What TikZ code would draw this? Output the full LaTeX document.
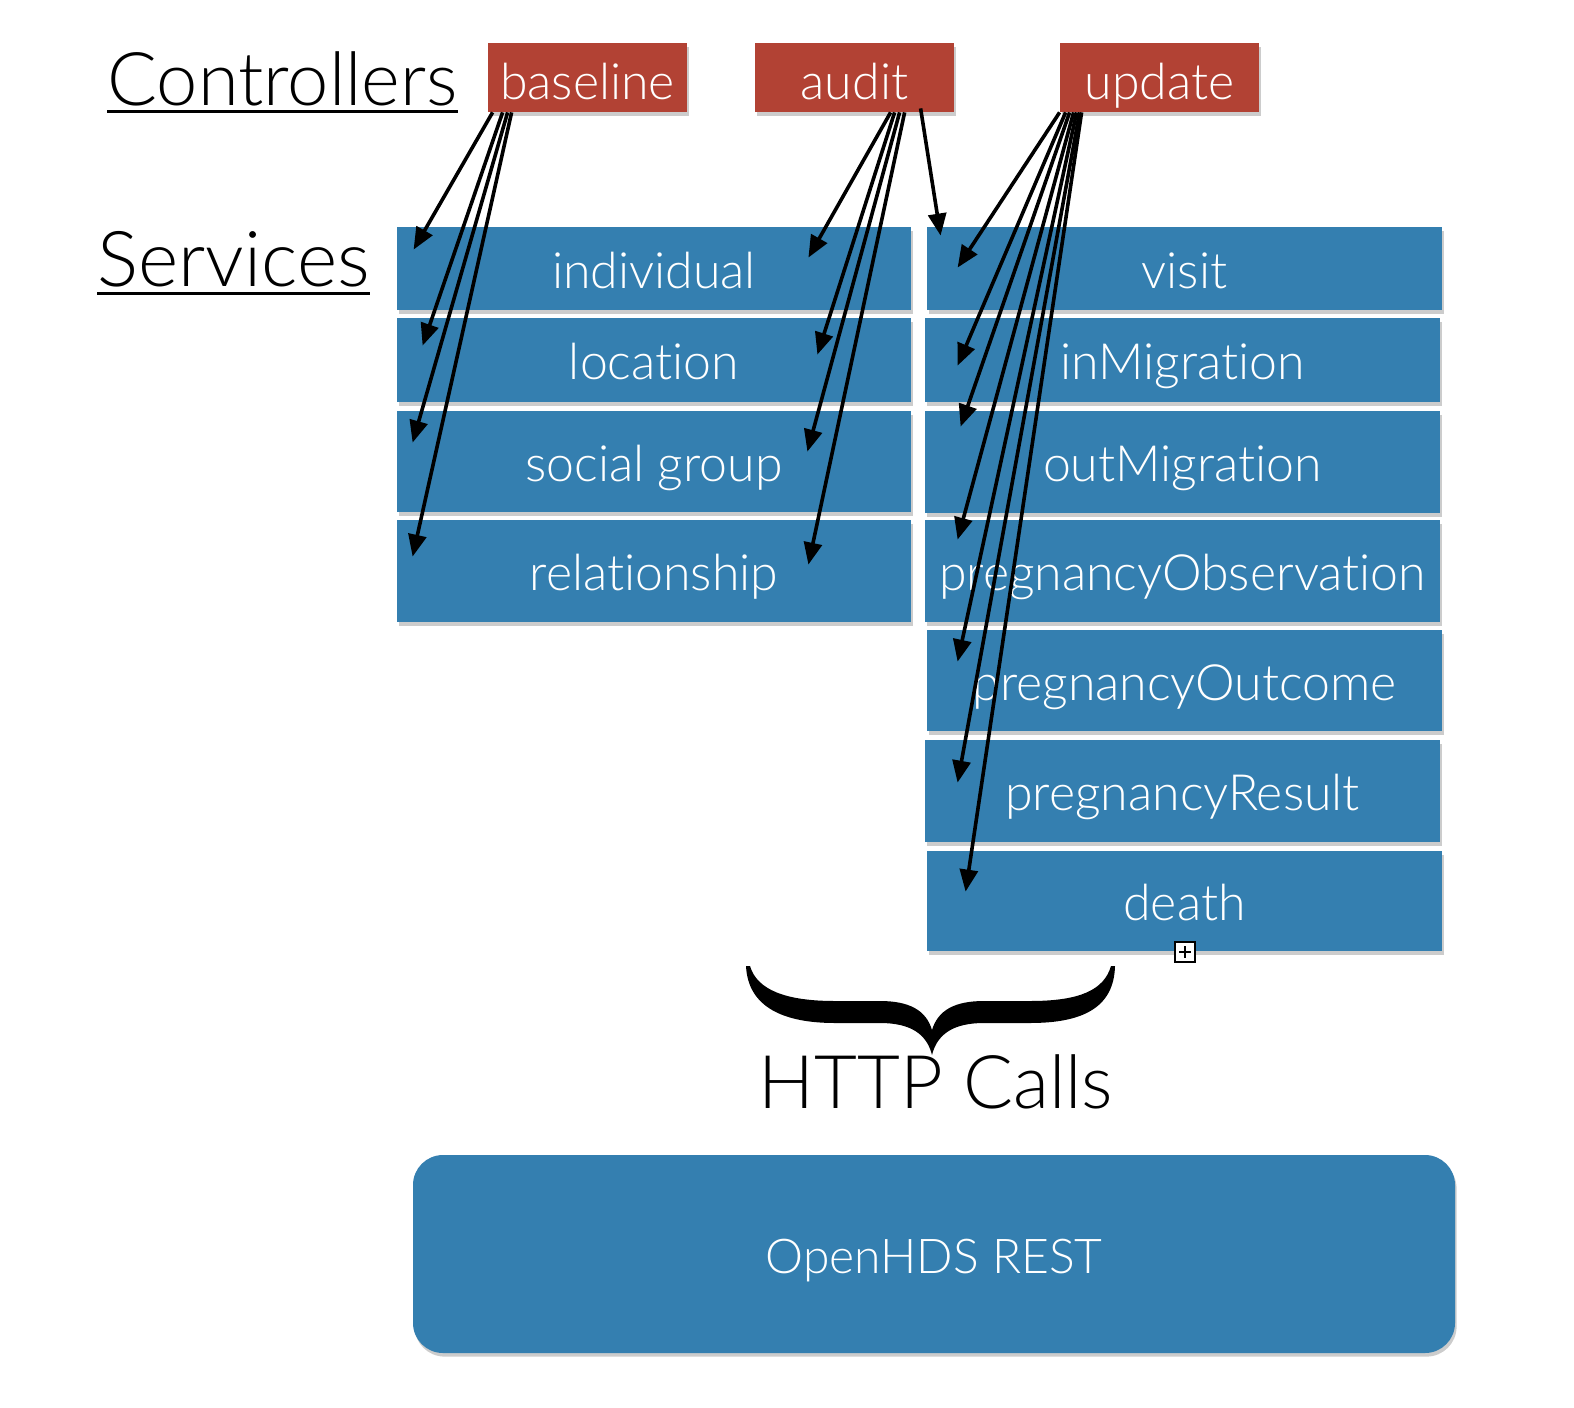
\documentclass[tikz,border=0pt]{standalone}
\usepackage{fontspec}
\IfFontExistsTF{Lato Light}{\setmainfont[Ligatures=NoCommon]{Lato Light}}{\setmainfont[Ligatures=NoCommon]{Lato}}
\usetikzlibrary{arrows.meta,calc,shadows}
\definecolor{svcblue}{RGB}{52,127,176}
\definecolor{ctlred}{RGB}{178,66,52}
\tikzset{
  box/.style={inner sep=0pt, text depth=0pt,
    drop shadow={shadow xshift=0.8pt, shadow yshift=-1.8pt, opacity=0.4}},
  svc/.style={box, fill=svcblue, text=white, text height=19.5pt, font=\fontsize{25}{28}\selectfont},
  ctl/.style={box, fill=ctlred, text=white, text height=22pt, minimum width=99.5pt, minimum height=34.5pt,
    font=\fontsize{25}{28}\selectfont},
  big/.style={inner sep=0pt, font=\fontsize{37}{40}\selectfont, text=black},
  arr/.style={line width=1.8pt, -{Triangle[length=11pt,width=9pt]}},
  uline/.style={line width=1.5pt}
}
\begin{document}
\begin{tikzpicture}[x=0.5pt,y=-0.5pt]
\fill[white] (0,0) rectangle (1574,1408);
\useasboundingbox (0,0) rectangle (1574,1408);

% headings
\node[big, anchor=base west] (ctrl) at (107,105) {Controllers};
\node[big, anchor=base west, font=\fontsize{38.5}{40}\selectfont] (serv) at (97,286) {Services};
\draw[uline] ($(ctrl.base west)+(0,6)$) -- ($(ctrl.base east)+(0,6)$);
\draw[uline] ($(serv.base west)+(0,7)$) -- ($(serv.base east)+(0,7)$);

% controllers
\node[ctl] (baseline) at (587.5,77.5) {baseline};
\node[ctl] (audit) at (854.5,77.5) {audit};
\node[ctl] (update) at (1159.5,77.5) {update};

% left services
\node[svc, minimum width=257pt, minimum height=41.5pt] (individual) at (654,268.5) {individual};
\node[svc, minimum width=257pt, minimum height=42pt] (location) at (654,360) {location};
\node[svc, minimum width=257pt, minimum height=50.5pt] (social) at (654,461.5) {social group};
\node[svc, minimum width=257pt, minimum height=51pt] (relationship) at (654,571) {relationship};

% right services
\node[svc, minimum width=257.5pt, minimum height=41.5pt] (visit) at (1184.5,268.5) {visit};
\node[svc, minimum width=257.5pt, minimum height=42pt] (inmig) at (1182.5,360) {inMigration};
\node[svc, minimum width=257.5pt, minimum height=51pt] (outmig) at (1182.5,462) {outMigration};
\node[svc, minimum width=257.5pt, minimum height=51pt] (pobs) at (1182.5,571) {pregnancyObservation};
\node[svc, minimum width=257.5pt, minimum height=50.5pt] (pout) at (1184.5,680.5) {pregnancyOutcome};
\node[svc, minimum width=257.5pt, minimum height=51pt] (pres) at (1182.5,791) {pregnancyResult};
\node[svc, minimum width=257.5pt, minimum height=50pt] (death) at (1184.5,901) {death};

% small marker
\node[draw=black, fill=white, line width=0.8pt, minimum size=10pt, inner sep=0pt] (mark) at (1185,952) {};
\draw[line width=0.8pt] ($(mark.center)+(-6,0)$) -- ($(mark.center)+(6,0)$);
\draw[line width=0.8pt] ($(mark.center)+(0,-6)$) -- ($(mark.center)+(0,6)$);

% REST box
\node[svc, rounded corners=15pt, minimum width=521pt, minimum height=99pt, text height=19pt,
  font=\fontsize{24}{28}\selectfont] (rest) at (934,1254) {OpenHDS REST};

% brace
\fill[black] (746,966) .. controls (748,1008) and (785,1023) .. (835,1023)
  -- (880,1023) .. controls (912,1023) and (927,1035) .. (932,1055)
  .. controls (937,1035) and (952,1023) .. (984,1023)
  -- (1030,1023) .. controls (1082,1023) and (1114,1008) .. (1115,966)
  -- (1111,966) .. controls (1104,990) and (1080,1001) .. (1030,1001)
  -- (984,1001) .. controls (955,1001) and (938,1010) .. (932,1030)
  .. controls (926,1010) and (909,1001) .. (880,1001)
  -- (835,1001) .. controls (786,1001) and (757,990) .. (750,966) -- cycle;
\node[big, anchor=base] (http) at (936,1108) {HTTP Calls};

% baseline arrows
\draw[arr] ($(baseline.south west)+(5,0)$) -- ($(individual.north west)+(17,23)$);
\draw[arr] ($(baseline.south west)+(15,0)$) -- ($(location.north west)+(26,28)$);
\draw[arr] ($(baseline.south west)+(20,0)$) -- ($(social.north west)+(16,32)$);
\draw[arr] ($(baseline.south west)+(24,0)$) -- ($(relationship.north west)+(16,37)$);

% audit arrows
\draw[arr] ($(audit.south west)+(136,0)$) -- ($(individual.north east)+(-103,31)$);
\draw[arr] ($(audit.south west)+(140,0)$) -- ($(location.north east)+(-94,37)$);
\draw[arr] ($(audit.south west)+(145,0)$) -- ($(social.north east)+(-104,41)$);
\draw[arr] ($(audit.south west)+(150,0)$) -- ($(relationship.north east)+(-103,45)$);
\draw[arr] ($(audit.south west)+(166,-4)$) -- ($(visit.north west)+(14,9)$);

% update arrows
\draw[arr] ($(update.south west)+(0,0)$) -- ($(visit.north west)+(31,41)$);
\draw[arr] ($(update.south west)+(6,0)$) -- ($(inmig.north west)+(33,48)$);
\draw[arr] ($(update.south west)+(10,0)$) -- ($(outmig.north west)+(36,16)$);
\draw[arr] ($(update.south west)+(14,0)$) -- ($(pobs.north west)+(33,20)$);
\draw[arr] ($(update.south west)+(17,0)$) -- ($(pout.north west)+(31,32)$);
\draw[arr] ($(update.south west)+(20,0)$) -- ($(pres.north west)+(33,43)$);
\draw[arr] ($(update.south west)+(22,0)$) -- ($(death.north west)+(39,41)$);
\end{tikzpicture}
\end{document}
